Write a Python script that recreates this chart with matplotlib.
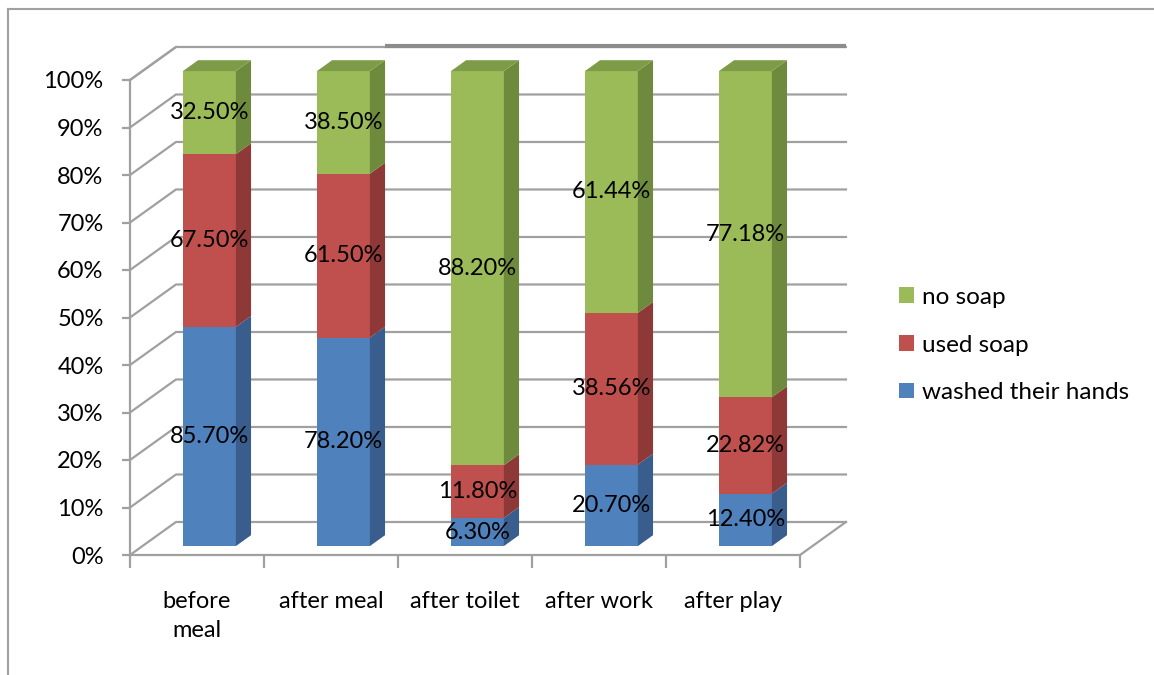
import numpy as np
import matplotlib
matplotlib.use("Agg")
import matplotlib.pyplot as plt
from matplotlib.patches import Polygon, Patch
from matplotlib.lines import Line2D

plt.rcParams['font.family'] = ['Lato', 'DejaVu Sans']

# ---------------- data ----------------
categories = ["before\nmeal", "after meal", "after toilet", "after work", "after play"]
series_names = ["washed their hands", "used soap", "no soap"]
washed = [85.70, 78.20, 6.30, 20.70, 12.40]
used_soap = [67.50, 61.50, 11.80, 38.56, 22.82]
no_soap = [32.50, 38.50, 88.20, 61.44, 77.18]
yticks = [0, 10, 20, 30, 40, 50, 60, 70, 80, 90, 100]

# ---------------- style ----------------
front_cols = ["#4F81BD", "#C0504D", "#9BBB59"]
side_cols = ["#395E8E", "#8E3937", "#6E8A3C"]
top_col = "#7E9C47"
grid_col = "#A0A0A0"
FS = 17

W, H = 1154, 675
fig = plt.figure(figsize=(W / 100, H / 100), dpi=100)
ax = fig.add_axes([130 / W, (H - 555) / H, 670 / W, 475 / H])
n = len(categories)
ax.set_xlim(-0.5, n - 0.5)
ax.set_ylim(0, 100)

# 3D oblique depth (data units)
DX, DY = 0.343, 6.95
f0, f1 = 0.27, 0.60
bw = 0.395

# back-wall gridlines + left wall diagonals
for v in yticks:
    ax.plot([-0.5, -0.5 + DX, n - 0.5 + DX], [v, v + DY, v + DY],
            color=grid_col, lw=1.6, zorder=1, clip_on=False)
# top of left wall
ax.plot([-0.5, -0.5 + DX], [100, 100 + DY], color=grid_col, lw=1.6, clip_on=False, zorder=1)
# floor right edge
ax.plot([n - 0.5, n - 0.5 + DX], [0, DY], color=grid_col, lw=1.6, clip_on=False, zorder=1)
# top dark line (artifact in reference)
ax.plot([1.40, n - 0.5 + DX], [100 + DY + 0.3, 100 + DY + 0.3], color="#8C8C8C", lw=3,
        clip_on=False, zorder=6, solid_capstyle='butt')

# ---------------- bars ----------------
vals = np.array([washed, used_soap, no_soap], dtype=float)
pct = vals / vals.sum(axis=0) * 100
x = np.arange(n)
xc = x + f0 * DX
y0 = f0 * DY
ddx = (f1 - f0) * DX
ddy = (f1 - f0) * DY

bottom = np.zeros(n) + y0
for s in range(3):
    ax.bar(xc, pct[s], width=bw, bottom=bottom, color=front_cols[s], zorder=3,
           linewidth=0, clip_on=False)
    for i in range(n):
        xr = xc[i] + bw / 2
        b, t = bottom[i], bottom[i] + pct[s][i]
        ax.add_patch(Polygon([[xr, b], [xr, t], [xr + ddx, t + ddy], [xr + ddx, b + ddy]],
                             closed=True, facecolor=side_cols[s], edgecolor='none',
                             zorder=3, clip_on=False))
        ax.text(xc[i], (b + t) / 2, f"{vals[s][i]:.2f}%", ha='center', va='center',
                fontsize=FS, color='black', zorder=5, clip_on=False)
    bottom = bottom + pct[s]

for i in range(n):
    xl, xr = xc[i] - bw / 2, xc[i] + bw / 2
    t = bottom[i]
    ax.add_patch(Polygon([[xl, t], [xr, t], [xr + ddx, t + ddy], [xl + ddx, t + ddy]],
                         closed=True, facecolor=top_col, edgecolor='none', zorder=3,
                         clip_on=False))

# ---------------- axes ----------------
for sp in ['top', 'right']:
    ax.spines[sp].set_visible(False)
for sp in ['left', 'bottom']:
    ax.spines[sp].set_color(grid_col)
    ax.spines[sp].set_linewidth(1.6)
ax.set_yticks(yticks)
ax.set_yticklabels([f"{v}%" for v in yticks])
ax.tick_params(axis='y', length=6, width=1.6, color=grid_col, pad=13, labelsize=FS)
ax.set_xticks(x)
ax.set_xticklabels(categories, linespacing=1.45)
ax.set_xticks(np.arange(-0.5, n, 1), minor=True)
ax.tick_params(axis='x', which='major', length=0, pad=26, labelsize=FS)
ax.tick_params(axis='x', which='minor', length=9, width=1.6, color=grid_col)
ax.set_facecolor('none')

# ---------------- legend ----------------
handles = [Patch(facecolor=front_cols[2]), Patch(facecolor=front_cols[1]),
           Patch(facecolor=front_cols[0])]
labels = [series_names[2], series_names[1], series_names[0]]
fig.legend(handles, labels, loc='center left', bbox_to_anchor=(899 / W, 1 - 345 / H),
           frameon=False, fontsize=17.5, handlelength=0.6, handleheight=0.6,
           handletextpad=0.35, labelspacing=1.1, borderpad=0, borderaxespad=0)

# outer border
fig.add_artist(Line2D([8 / W, 1], [1 - 9 / H, 1 - 9 / H], color="#A0A0A0", lw=1.5,
                      transform=fig.transFigure))
fig.add_artist(Line2D([8 / W, 8 / W], [0, 1 - 9 / H], color="#A0A0A0", lw=1.5,
                      transform=fig.transFigure))

fig.savefig("out.png", dpi=100)
